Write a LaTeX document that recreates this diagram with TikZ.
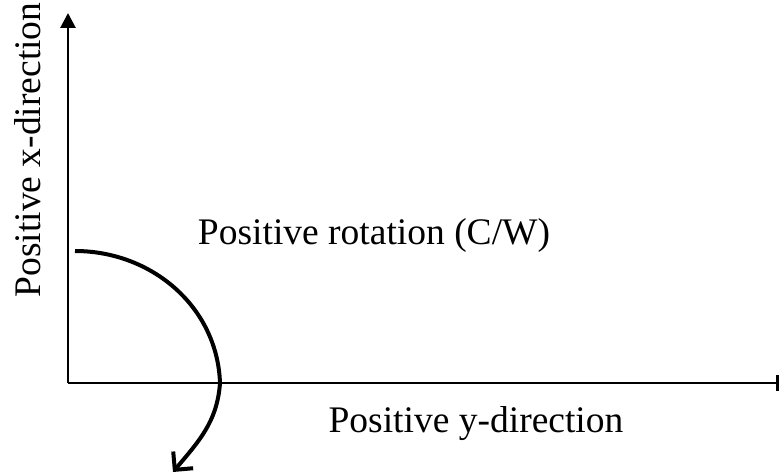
\documentclass[tikz,border=0pt]{standalone}
\usepackage{fontspec}
\setmainfont{Liberation Serif}
\usetikzlibrary{arrows.meta,positioning}

\begin{document}
\begin{tikzpicture}[
  x=1pt, y=-1pt,
  axis/.style={line width=2.8pt},
  turn/.style={line width=4pt, -{Straight Barb[length=13pt, width=26pt, line width=4pt]}},
  label/.style={font=\fontsize{37.5}{44}\selectfont, inner sep=0pt},
]
\useasboundingbox (0,0) rectangle (780,473);

% === Axes ===
\coordinate (origin) at (68,383);
\coordinate (xend) at (68,13);
\coordinate (yend) at (779,383);
\draw[axis, -{Triangle[length=15pt, width=15pt]}] (origin) -- (xend);
\draw[axis, -{Bar[width=16pt, line width=2.8pt]}] (origin) -- (yend);

% === Rotation ===
\coordinate (rstart) at (75,251);
\coordinate (rcross) at (220,383);
\coordinate (rend) at (173,472);
\draw[turn] (rstart) to[out=0, in=92] (rcross) to[out=-94, in=50] (rend);

% === Labels ===
\node[label, anchor=base] (xlab) at (40,150) [rotate=90] {Positive x-direction};
\node[label, anchor=base] (ylab) at (476,432) {Positive y-direction};
\node[label, anchor=base] (rlab) at (374,245) {Positive rotation (C/W)};

\end{tikzpicture}
\end{document}
